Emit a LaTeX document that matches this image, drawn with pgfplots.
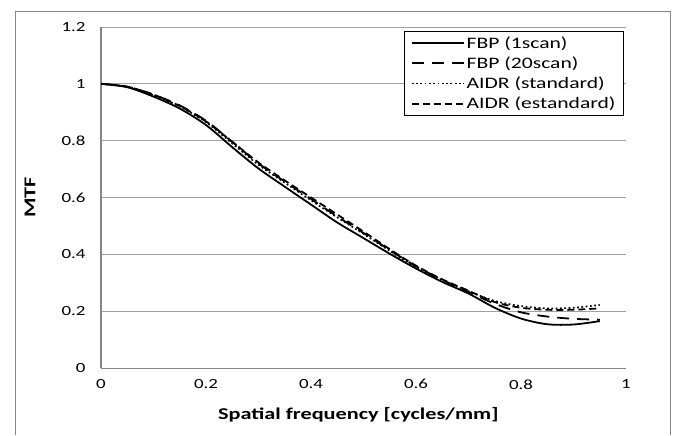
\documentclass[border=0pt]{standalone}
\usepackage{fontspec}
\setmainfont{Carlito}[FakeStretch=1.35]
\usepackage{pgfplots}
\pgfplotsset{compat=1.18}

\definecolor{gridgray}{RGB}{160,160,160}
\definecolor{axisgray}{RGB}{134,134,134}

\begin{document}
\begin{tikzpicture}
\begin{axis}[
  scale only axis,
  width=525pt, height=341pt,
  xmin=0, xmax=1, ymin=0, ymax=1.2,
  xtick={0,0.2,...,1.0},
  ytick={0,0.2,...,1.2},
  axis x line*=bottom, axis y line*=left,
  axis line style={axisgray, line width=1pt, -},
  ymajorgrids, grid style={gridgray, line width=0.9pt},
  major tick length=0pt,
  /pgf/number format/assume math mode=true,
  tick label style={font=\fontsize{14}{16}\selectfont},
  xticklabel style={yshift=-8pt},
  yticklabel style={xshift=-12pt},
  xlabel={\textbf{Spatial frequency [cycles/mm]}},
  ylabel={\textbf{MTF}},
  label style={font=\fontsize{16.5}{19}\selectfont},
  xlabel style={at={(axis description cs:0.49,-0.138)}, anchor=center},
  ylabel style={at={(axis description cs:-0.135,0.5)}, anchor=center},
  legend style={at={(rel axis cs:0.996,0.988)}, anchor=north east,
    draw=black, line width=0.8pt, font=\fontsize{16}{19}\selectfont,
    row sep=3pt, inner xsep=6pt, inner ysep=3pt},
  legend cell align=left,
  legend image code/.code={\draw[#1] (0pt,0pt) -- (52pt,0pt);},
  every axis plot/.append style={smooth, tension=0.5},
]
\addplot[black, line width=1.8pt] coordinates {
  (0,1.000)(0.05,0.988)(0.10,0.955)(0.15,0.913)(0.20,0.855)(0.25,0.777)
  (0.30,0.702)(0.35,0.638)(0.40,0.575)(0.45,0.512)(0.50,0.457)(0.55,0.402)
  (0.60,0.350)(0.65,0.303)(0.70,0.262)(0.75,0.212)(0.80,0.174)(0.85,0.154)
  (0.90,0.153)(0.95,0.165)
};
\addlegendentry{FBP (1scan)}
\addplot[black, line width=1.8pt, dash pattern=on 12pt off 8pt] coordinates {
  (0,1.000)(0.05,0.990)(0.10,0.962)(0.15,0.924)(0.20,0.870)(0.25,0.796)
  (0.30,0.720)(0.35,0.656)(0.40,0.595)(0.45,0.533)(0.50,0.475)(0.55,0.415)
  (0.60,0.358)(0.65,0.310)(0.70,0.268)(0.75,0.226)(0.80,0.196)(0.85,0.181)
  (0.90,0.173)(0.95,0.170)
};
\addlegendentry{FBP (20scan)}
\addplot[black, line width=1.6pt, dash pattern=on 1.8pt off 2.5pt] coordinates {
  (0,1.000)(0.05,0.990)(0.10,0.960)(0.15,0.920)(0.20,0.865)(0.25,0.790)
  (0.30,0.715)(0.35,0.652)(0.40,0.590)(0.45,0.530)(0.50,0.472)(0.55,0.412)
  (0.60,0.355)(0.65,0.310)(0.70,0.270)(0.75,0.236)(0.80,0.218)(0.85,0.210)
  (0.90,0.212)(0.95,0.222)
};
\addlegendentry{AIDR (standard)}
\addplot[black, line width=1.8pt, dash pattern=on 7pt off 4pt] coordinates {
  (0,1.000)(0.05,0.990)(0.10,0.962)(0.15,0.922)(0.20,0.868)(0.25,0.796)
  (0.30,0.723)(0.35,0.660)(0.40,0.600)(0.45,0.540)(0.50,0.480)(0.55,0.418)
  (0.60,0.360)(0.65,0.312)(0.70,0.272)(0.75,0.232)(0.80,0.212)(0.85,0.205)
  (0.90,0.205)(0.95,0.210)
};
\addlegendentry{AIDR (estandard)}
\end{axis}
\draw[axisgray, line width=0.8pt]
  ([shift={(-86pt,-67pt)}]current axis.south west) --
  ([shift={(-86pt,16pt)}]current axis.north west) --
  ([shift={(44pt,16pt)}]current axis.north east) --
  ([shift={(44pt,-67pt)}]current axis.south east);
\useasboundingbox ([shift={(-101pt,-67pt)}]current axis.south west)
  rectangle ([shift={(50pt,27pt)}]current axis.north east);
\end{tikzpicture}
\end{document}
